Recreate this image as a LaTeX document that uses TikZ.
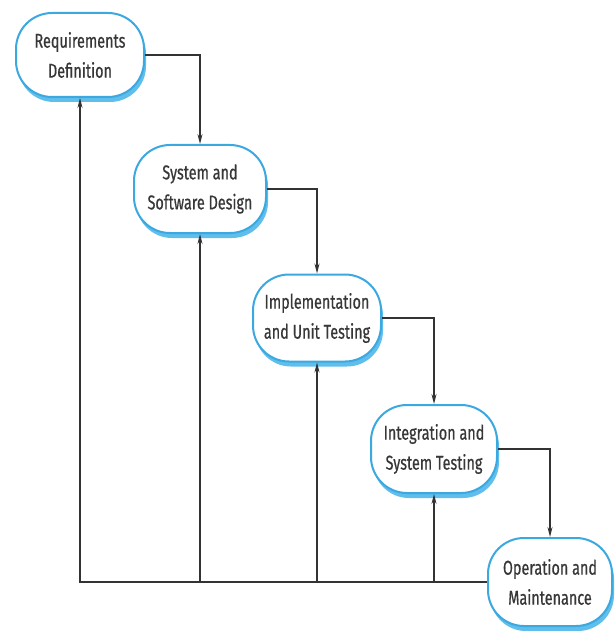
\documentclass[tikz,border=0pt]{standalone}
\usepackage{fontspec}
\setmainfont[FakeStretch=0.72,FakeBold=0.6]{Fira Sans}
\usetikzlibrary{shadows,arrows.meta}
\definecolor{boxline}{RGB}{60,168,224}
\definecolor{boxshade}{RGB}{95,190,236}
\definecolor{txt}{RGB}{55,55,55}
\tikzset{
  phase/.style={draw=boxline, line width=2pt, fill=white, rounded corners=36pt,
    minimum width=128pt, minimum height=84pt, align=center, text=txt,
    font=\fontsize{20}{30}\selectfont, inner sep=0pt,
    drop shadow={shadow xshift=2pt, shadow yshift=-5pt, fill=boxshade, opacity=1}},
  flow/.style={draw=black!80, line width=1.2pt, -{Stealth[length=10pt,width=5pt]}},
  plain/.style={draw=black!80, line width=1.2pt}
}
\begin{document}
\begin{tikzpicture}[x=1pt,y=-1pt]
\useasboundingbox (0,0) rectangle (614,631);
\node[phase] (B1) at (80,55) {Requirements\\Definition};
\node[phase, minimum width=132pt, minimum height=88pt] (B2) at (200,189) {System and\\Software Design};
\node[phase, minimum height=87pt] (B3) at (317,318) {Implementation\\and Unit Testing};
\node[phase, minimum width=126pt, minimum height=88pt] (B4) at (434,449) {Integration and\\System Testing};
\node[phase, minimum width=124pt, minimum height=88pt] (B5) at (550,582) {Operation and\\Maintenance};
\draw[flow] (B1.east) -| (B2.north);
\draw[flow] (B2.east) -| (B3.north);
\draw[flow] (B3.east) -| (B4.north);
\draw[flow] (B4.east) -| (B5.north);
\draw[flow] (B5.west) -| (B1.south);
\draw[flow] (B5.west -| B2.south) -- (B2.south);
\draw[flow] (B5.west -| B3.south) -- (B3.south);
\draw[flow] (B5.west -| B4.south) -- (B4.south);
\end{tikzpicture}
\end{document}
